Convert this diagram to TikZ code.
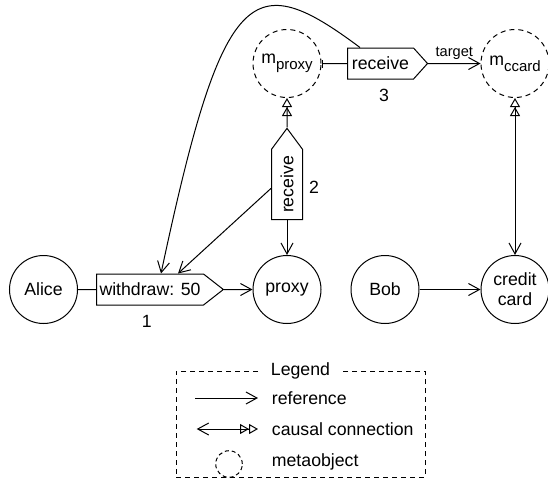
\documentclass[tikz,border=0pt]{standalone}
\usepackage{fontspec}
\setmainfont{Liberation Sans}
\usetikzlibrary{arrows.meta,shapes.symbols}

\newcommand{\msub}[1]{\raisebox{-6pt}{\fontsize{15}{15}\selectfont #1}}

\tikzset{
  txt/.style={font=\fontsize{17.7}{20}\selectfont},
  object/.style={txt, circle, draw, line width=1pt, minimum size=68pt, inner sep=0pt},
  meta/.style={object, dash pattern=on 5pt off 4pt},
  message/.style={txt, signal, draw, line width=1pt, minimum height=31pt, inner xsep=3pt},
  barb/.tip={Straight Barb[length=11pt,width=12pt]},
  hollow/.tip={Triangle[open,length=9pt,width=10pt] Triangle[open,length=9pt,width=10pt]},
  ref/.style={line width=1pt, -barb},
  causal/.style={line width=1pt, barb-hollow},
  legtext/.style={txt, anchor=west, inner sep=0pt},
}

\begin{document}
\begin{tikzpicture}[x=1pt, y=-1pt]
\useasboundingbox (0,0) rectangle (548,488);

% Base objects
\node[object] (alice) at (43.5,289.5) {Alice};
\node[object] (proxy) at (287,289.5) {proxy};
\node[object] (bob) at (385,289.5) {Bob};
\node[object, align=center] (ccard) at (515,289.5) {credit\\card};

% Metaobjects
\node[meta] (mproxy) at (287,63.5) {m\msub{proxy}};
\node[meta] (mccard) at (515,63.5) {m\msub{ccard}};

% Messages
\node[message, anchor=west, minimum width=121pt, signal pointer angle=76] (withdraw) at (96,289.5) {withdraw: 50};
\node[message, anchor=west, minimum width=80pt, signal pointer angle=96] (recvtop) at (347,63.5) {receive};
\node[message, anchor=south, signal to=north, minimum width=31pt, minimum height=79pt, inner xsep=0pt, signal pointer angle=73] (recvmid) at (287,220) {\rotatebox{90}{receive}};

% Step numbers
\node[txt] (num1) at (146.7,321) {1};
\node[txt] (num2) at (314,187) {2};
\node[txt] (num3) at (384,95) {3};

% References
\draw[line width=1pt] (alice) -- (withdraw);
\draw[ref] (withdraw) -- (proxy);
\draw[ref] (bob) -- (ccard);
\draw[ref] (recvmid.south) -- (proxy);
\draw[ref] ([yshift=-4pt]recvmid.west) -- ([xshift=82pt]withdraw.north west);
\draw[ref] ([xshift=13pt]recvtop.north west) .. controls (252,-33) and (223,-18) .. ([xshift=65pt]withdraw.north west);
\draw[line width=1pt, {Bar[width=8pt]}-] (mproxy) -- (recvtop);
\draw[ref] (recvtop) -- node[above, font=\fontsize{14.6}{16}\selectfont] (target) {target} (mccard);

% Causal connections
\draw[line width=1pt, -hollow] (recvmid) -- (mproxy);
\draw[causal] (ccard) -- (mccard);

% Legend
\node[draw, line width=1pt, dash pattern=on 5pt off 4pt, minimum width=249pt, minimum height=106pt] (legend) at (300.5,424) {};
\node[txt, fill=white, inner xsep=12pt, inner ysep=1pt] (legendtitle) at (legend.north) {Legend};
\coordinate (refa) at (195,398);
\coordinate (refb) at (258,398);
\draw[ref] (refa) -- (refb);
\node[legtext] (reftext) at (271.7,398) {reference};
\coordinate (causala) at (196.7,429);
\coordinate (causalb) at (258,429);
\draw[causal] (causala) -- (causalb);
\node[legtext] (causaltext) at (271.7,429) {causal connection};
\node[circle, draw, line width=1pt, dash pattern=on 4pt off 3pt, minimum size=26.6pt, inner sep=0pt] (metasample) at (229,464) {};
\node[legtext] (metatext) at (271.7,462) {metaobject};

\end{tikzpicture}
\end{document}
